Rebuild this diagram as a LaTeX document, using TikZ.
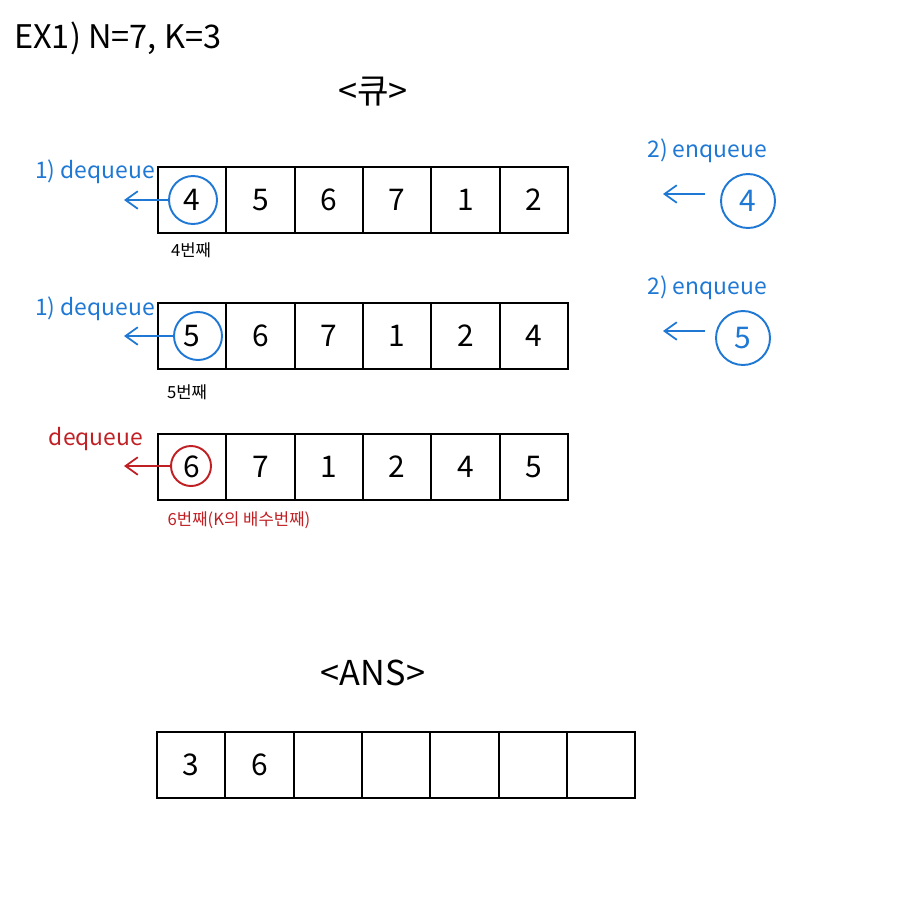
\documentclass[tikz,border=0pt]{standalone}
\usepackage{fontspec}
\setmainfont{Noto Sans CJK KR}
\usepackage{tikz}
\usetikzlibrary{arrows.meta,positioning}
\definecolor{qblue}{RGB}{30,120,212}
\definecolor{qred}{RGB}{192,32,36}

\begin{document}
\begin{tikzpicture}[x=0.02cm,y=-0.02cm,
  cell/.style={rectangle, draw, line width=1.1pt, minimum width=1.366cm,
               minimum height=1.32cm, inner sep=0pt, outer sep=0pt,
               font=\fontsize{17}{17}\selectfont},
  ring/.style={circle, draw, line width=1.1pt, inner sep=0pt},
  arr/.style={-{Straight Barb[length=7pt,width=10pt]}, line width=1pt},
  lbl/.style={font=\fontsize{13}{13}\selectfont},
  note/.style={font=\fontsize{9.5}{9.5}\selectfont}
]
\useasboundingbox (0,0) rectangle (901,900);

\node[anchor=west, font=\fontsize{18.5}{18.5}\selectfont] (title) at (8,38) {EX1) N=7, K=3};
\node[font=\fontsize{19.5}{19.5}\selectfont] (queue) at (373,92) {<큐>};

% first round
\foreach \v [count=\i] in {4,5,6,7,1,2}
  \node[cell] (a\i) at ({158+68.33*(\i-0.5)},200) {\v};
\node[ring, qblue, minimum size=0.96cm] (a0) at (193,200) {};
\coordinate (aout) at (124,200);
\draw[arr, qblue] (a0) -- (aout);
\node[lbl, qblue] (adeq) at (95,172) {1) dequeue};
\node[note] (anote) at (191,250) {4번째};

\node[lbl, qblue] (aenq) at (707,151) {2) enqueue};
\node[ring, qblue, minimum size=1.08cm, font=\fontsize{17}{17}\selectfont] (ain) at (748,201) {4};
\coordinate (ainr) at (705,194);
\coordinate (ainl) at (663,194);
\draw[arr, qblue] (ainr) -- (ainl);

% second round
\foreach \v [count=\i] in {5,6,7,1,2,4}
  \node[cell] (b\i) at ({158+68.33*(\i-0.5)},336) {\v};
\node[ring, qblue, minimum size=0.96cm] (b0) at (198,336) {};
\coordinate (bout) at (124,336);
\draw[arr, qblue] (b0) -- (bout);
\node[lbl, qblue] (bdeq) at (95,309) {1) dequeue};
\node[note] (bnote) at (187,392) {5번째};

\node[lbl, qblue] (benq) at (707,288) {2) enqueue};
\node[ring, qblue, minimum size=1.08cm, font=\fontsize{17}{17}\selectfont] (bin) at (743,338) {5};
\coordinate (binr) at (705,331);
\coordinate (binl) at (663,331);
\draw[arr, qblue] (binr) -- (binl);

% third round
\foreach \v [count=\i] in {6,7,1,2,4,5}
  \node[cell] (c\i) at ({158+68.33*(\i-0.5)},467) {\v};
\node[ring, qred, minimum size=0.8cm] (c0) at (191,466) {};
\coordinate (cout) at (124,466);
\draw[arr, qred] (c0) -- (cout);
\node[lbl, qred] (cdeq) at (96,439) {dequeue};
\node[note, qred] (cnote) at (239,520) {6번째(K의 배수번째)};

% answer
\node[font=\fontsize{19.5}{19.5}\selectfont] (ans) at (373,673) {<ANS>};
\foreach \v [count=\i] in {3,6,,,,,}
  \node[cell] (d\i) at ({157+68.33*(\i-0.5)},765) {\v};
\end{tikzpicture}
\end{document}
